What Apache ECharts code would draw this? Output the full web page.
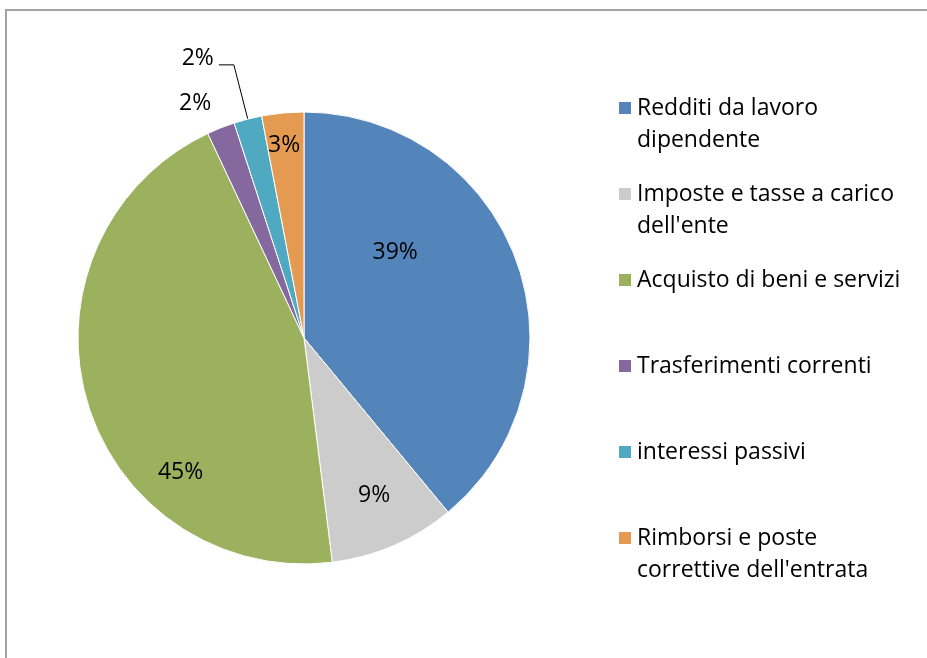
<!DOCTYPE html>
<html>
<head>
<meta charset="utf-8">
<script src="https://cdn.jsdelivr.net/npm/echarts@6/dist/echarts.min.js"></script>
<style>
  html, body { margin: 0; padding: 0; background: #fff; }
  #chart { width: 927px; height: 658px; }
</style>
</head>
<body>
<div id="chart"></div>
<script>
// Spending breakdown by category (percent of total)
const categories = [
  'Redditi da lavoro\ndipendente',
  'Imposte e tasse a carico\ndell\'ente',
  'Acquisto di beni e servizi',
  'Trasferimenti correnti',
  'interessi passivi',
  'Rimborsi e poste\ncorrettive dell\'entrata'
];
const values = [39, 9, 45, 2, 2, 3];
const colors = ['#5485ba', '#cccccc', '#9bb15e', '#84689e', '#4fa9c1', '#e59a51'];

// Label placement per slice: inside nudges, or outside with a leader line
const labelNudge = [[-18, -46], [24, 51], [-12, 102], [0, 0], [0, 0], [-9, -77]];
const labelStyle = [
  { position: 'inside' },
  { position: 'inside' },
  { position: 'inside' },
  { position: 'outside', distanceToLabelLine: 0 },
  { position: 'outside', distanceToLabelLine: 5, formatter: '{t|{d}%}', padding: [0, 0, 12, 0] },
  { position: 'inside' }
];
const lineStyle = [
  {}, {}, {},
  { show: false, length: 26, length2: 0 },
  { show: true, length: 56, length2: 15 },
  {}
];

const FONT = 'Open Sans';
const chart = echarts.init(document.getElementById('chart'), null, { renderer: 'canvas' });

chart.setOption({
  backgroundColor: '#ffffff',
  animation: false,
  color: colors,
  graphic: [{
    type: 'rect',
    shape: { x: 6, y: 10, width: 1000, height: 1000 },
    style: { fill: 'none', stroke: '#a3a3a3', lineWidth: 2 },
    silent: true
  }],
  legend: {
    orient: 'vertical',
    left: 617,
    top: 60,
    padding: 0,
    icon: 'rect',
    itemWidth: 14,
    itemHeight: 14,
    itemGap: -10,
    selectedMode: false,
    textStyle: { fontFamily: FONT, fontSize: 23, color: '#000', lineHeight: 32 },
    // every entry is three lines tall so the marker sits beside the first text line
    formatter: function (name) {
      return name.indexOf('\n') >= 0 ? '\n' + name : '\n' + name + '\n';
    },
    data: categories
  },
  series: [{
    type: 'pie',
    center: [304, 338],
    radius: 226,
    startAngle: 90,
    clockwise: true,
    avoidLabelOverlap: false,
    itemStyle: { borderColor: '#ffffff', borderWidth: 1 },
    label: {
      formatter: '{d}%',
      fontFamily: FONT,
      fontSize: 23,
      color: '#000',
      rich: { t: { fontFamily: FONT, fontSize: 23, color: '#000' } }
    },
    labelLine: { lineStyle: { color: '#000', width: 1 } },
    labelLayout: function (params) {
      const n = labelNudge[params.dataIndex];
      return { dx: n[0], dy: n[1] };
    },
    emphasis: { disabled: true },
    data: categories.map((c, i) => ({
      name: c,
      value: values[i],
      label: labelStyle[i],
      labelLine: lineStyle[i]
    }))
  }]
});
</script>
</body>
</html>
